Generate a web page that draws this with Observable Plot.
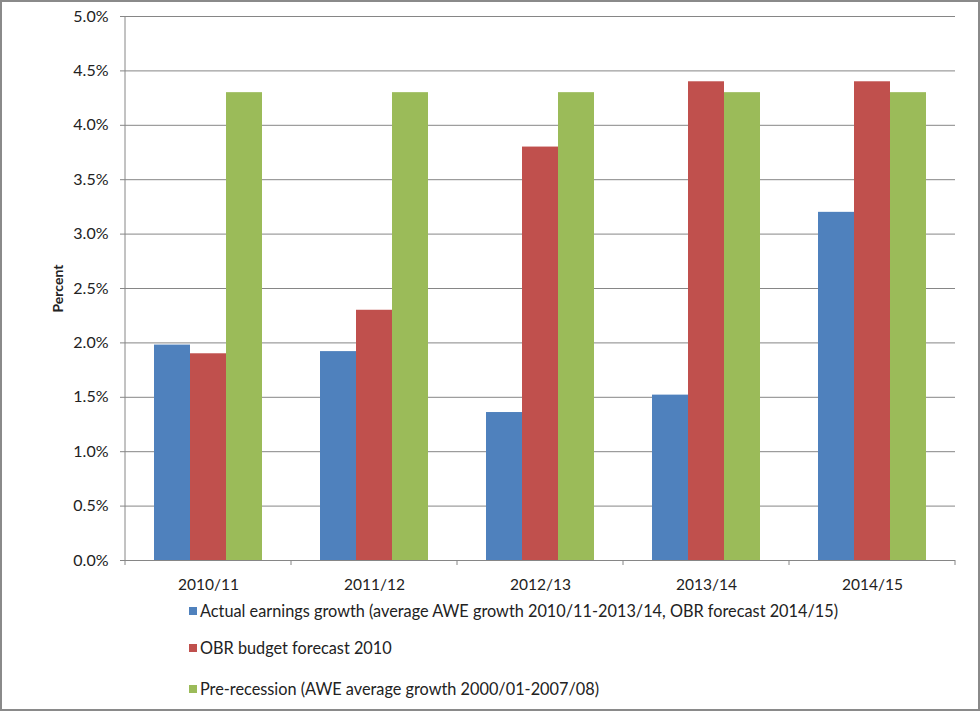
<!DOCTYPE html>
<html><head><meta charset="utf-8">
<script src="https://cdn.jsdelivr.net/npm/d3@7"></script>
<script src="https://cdn.jsdelivr.net/npm/@observablehq/plot@0.6"></script>
<style>
body{margin:0;background:#fff;}
#wrap{position:relative;width:980px;height:711px;overflow:hidden;font-family:Lato,"Open Sans",sans-serif;background:#fff;}
#chart svg{display:block;}
#border{position:absolute;left:0;top:0;width:980px;height:711px;box-sizing:border-box;border:2px solid #8a8a8a;pointer-events:none;}
#legend{position:absolute;left:0;top:0;font-size:16.3px;color:#222;}
.item{position:absolute;left:189px;white-space:nowrap;display:flex;align-items:center;height:20px;line-height:20px;}
.sw{width:8px;height:8px;margin-right:3px;flex:none;}
g[aria-label="y-axis label"] text{font-weight:bold;font-size:14px;}
g[aria-label="y-axis tick label"] text{font-size:16px;}
g[aria-label="fx-axis tick label"] text{font-size:15.5px;}
</style></head><body>
<div id="wrap"><div id="chart"></div><div id="legend"></div><div id="border"></div></div>
<script>
const years = ["2010/11","2011/12","2012/13","2013/14","2014/15"];
const seriesNames = [
  "Actual earnings growth (average AWE growth 2010/11-2013/14, OBR forecast 2014/15)",
  "OBR budget forecast 2010",
  "Pre-recession (AWE average growth 2000/01-2007/08)"
];
const actual = [1.98, 1.92, 1.36, 1.52, 3.2];
const obrForecast = [1.9, 2.3, 3.8, 4.4, 4.4];
const preRecession = [4.3, 4.3, 4.3, 4.3, 4.3];
const colors = ["#4F81BD", "#C0504D", "#9BBB59"];
const yTicks = [0, 0.5, 1, 1.5, 2, 2.5, 3, 3.5, 4, 4.5, 5];
const legendRowsY = [611, 648, 689];

const seriesValues = [actual, obrForecast, preRecession];
const data = years.flatMap((yr, i) => seriesNames.map((s, k) => ({year: yr, series: s, value: seriesValues[k][i]})));

const grey = "#868686";
const plot = Plot.plot({
  width: 980, height: 600,
  marginLeft: 123, marginRight: 24, marginTop: 16, marginBottom: 40,
  style: {fontFamily: "Lato, 'Open Sans', sans-serif", fontSize: "15px", color: "#222", background: "transparent"},
  fx: {domain: years, padding: 0, label: null},
  x: {domain: seriesNames, paddingInner: 0, paddingOuter: 0.77, axis: null},
  y: {domain: [0, 5]},
  color: {domain: seriesNames, range: colors},
  marks: [
    Plot.gridY(yTicks, {stroke: grey, strokeOpacity: 1}),
    Plot.barY(data, {fx: "year", x: "series", y: "value", fill: "series"}),
    Plot.ruleY([0], {stroke: grey}),
    Plot.axisY(yTicks, {tickSize: 5, tickPadding: 12, stroke: grey, tickFormat: d => d.toFixed(1) + "%", label: "Percent", labelAnchor: "center", labelOffset: 72, labelArrow: "none", fontSize: 16}),
    Plot.axisFx({anchor: "bottom", tickSize: 0, tickPadding: 18, fontSize: 15.5, label: null})
  ]
});
document.getElementById("chart").appendChild(plot);

// axis line and category boundary ticks from the scales
const fx = plot.scale("fx"), ys = plot.scale("y");
const svg = d3.select(plot);
const bounds = years.map(y => fx.apply(y)).concat([fx.apply(years[years.length - 1]) + fx.bandwidth]);
const g = svg.append("g").attr("stroke", grey);
g.append("line").attr("x1", bounds[0]).attr("x2", bounds[0]).attr("y1", ys.apply(5)).attr("y2", ys.apply(0));
bounds.forEach(b => g.append("line").attr("x1", b).attr("x2", b).attr("y1", ys.apply(0)).attr("y2", ys.apply(0) + 5));

const legend = d3.select("#legend");
seriesNames.forEach((s, k) => {
  const it = legend.append("div").attr("class", "item").style("top", (legendRowsY[k] - 10) + "px");
  it.append("div").attr("class", "sw").style("background", colors[k]);
  it.append("span").text(s);
});
</script>
</body></html>
